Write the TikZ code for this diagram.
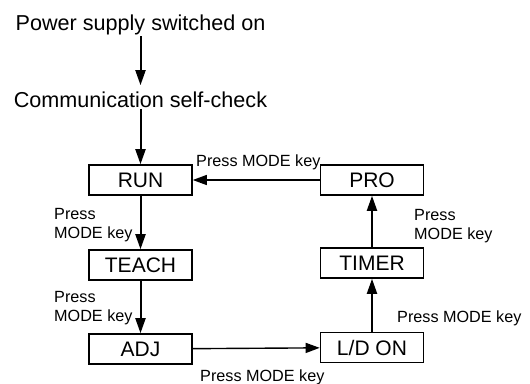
\documentclass[tikz,border=0pt]{standalone}
\usepackage{fontspec}
\setmainfont{Liberation Sans}
\usetikzlibrary{arrows.meta}
\begin{document}
\begin{tikzpicture}[x=1pt,y=-1pt,
  big/.style={font=\fontsize{21.6}{26}\selectfont, inner sep=0pt},
  box/.style={draw, line width=1.6pt, minimum width=103pt, minimum height=30pt, inner sep=0pt, font=\fontsize{21}{25}\selectfont},
  lbl/.style={font=\fontsize{16.2}{19}\selectfont, inner sep=0pt, align=left},
  varr/.style={line width=2pt, -{Triangle[length=15pt,width=10pt]}},
  harr/.style={line width=1.4pt, -{Triangle[length=14pt,width=10pt]}}]
\useasboundingbox (0,0) rectangle (530,383);
\node[big, anchor=base] (power) at (140.5,30) {Power supply switched on};
\node[big, anchor=base] (comm) at (140.5,107) {Communication self-check};
\node[box] (run) at (140.5,180) {RUN};
\node[box] (teach) at (140.5,265) {TEACH};
\node[box] (adj) at (140.5,349) {ADJ};
\node[box] (pro) at (372,180) {PRO};
\node[box] (timer) at (372,263) {TIMER};
\node[box] (ldon) at (372,347.5) {L/D ON};
\draw[varr, shorten <=1.5pt, shorten >=6pt] (power) -- (comm);
\draw[varr, shorten <=1.5pt] (comm) -- (run);
\draw[varr] (run) -- (teach);
\draw[varr] (teach) -- (adj);
\draw[harr] (adj) -- (ldon);
\draw[varr] (ldon) -- (timer);
\draw[varr] (timer) -- (pro);
\draw[harr] (pro) -- (run);
\node[lbl, anchor=base west] (l1) at (196,166) {Press MODE key};
\node[lbl, anchor=north west] (l2) at (54,208) {Press\\MODE key};
\node[lbl, anchor=north west] (l3) at (54,291) {Press\\MODE key};
\node[lbl, anchor=base west] (l4) at (200,381) {Press MODE key};
\node[lbl, anchor=base west] (l5) at (397,322) {Press MODE key};
\node[lbl, anchor=north west] (l6) at (414,209) {Press\\MODE key};
\end{tikzpicture}
\end{document}
